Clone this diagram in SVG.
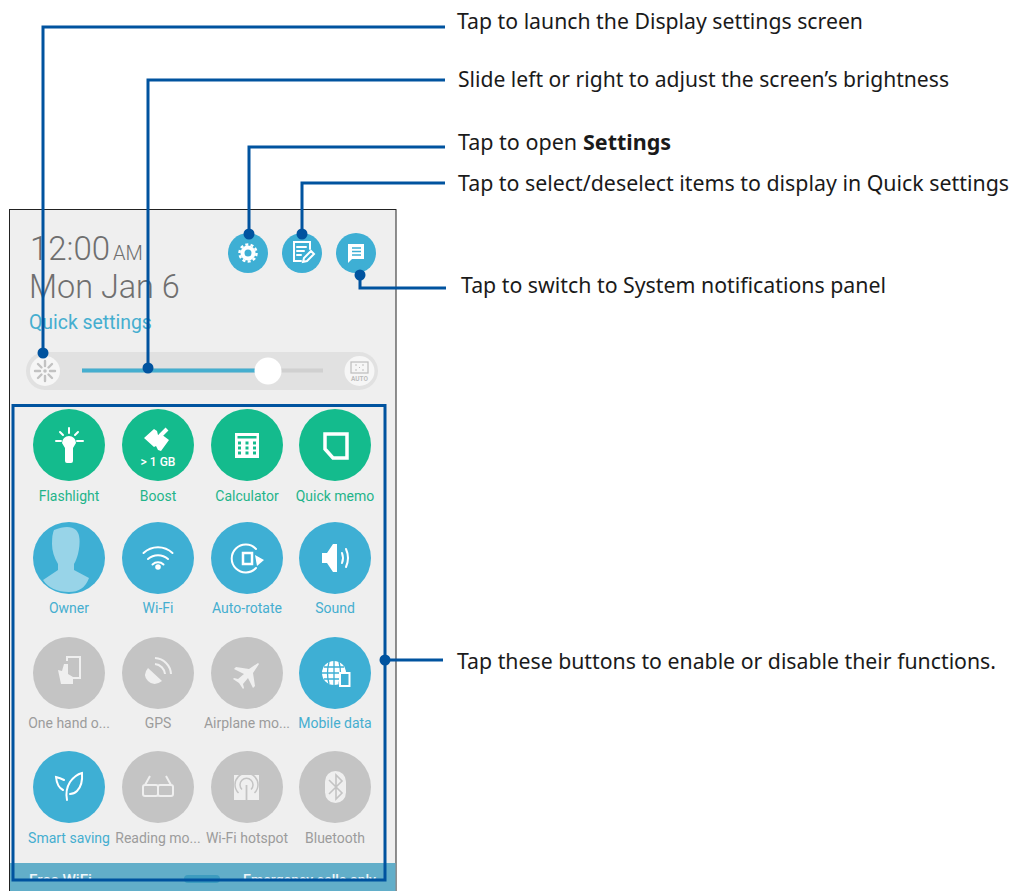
<svg xmlns="http://www.w3.org/2000/svg" width="1013" height="891" viewBox="0 0 1013 891">
<style>
.call{font:22px "Noto Sans","Open Sans",sans-serif;fill:#1a1a1a}
.ui{font-family:Roboto,"Noto Sans",sans-serif;text-anchor:middle;font-size:14px}
.g{fill:#14bb8d}.b{fill:#3eafd4}.o{fill:#c4c4c4}
.tg{fill:#1fb48a}.tb{fill:#45aecf}.to{fill:#9c9c9c}
.w{fill:#fff}.ws{fill:none;stroke:#fff;stroke-width:2;stroke-linecap:round}
.wo{fill:#efefef}.wos{fill:none;stroke:#efefef;stroke-width:2}
.con{fill:none;stroke:#00539f;stroke-width:3}
.dot{fill:#00539f}
</style>
<defs><clipPath id="barclip"><rect x="10" y="863" width="385" height="17"/></clipPath></defs>
<rect width="1013" height="891" fill="#fff"/>
<g id="panel">
<rect x="9.500" y="209.500" width="386.500" height="690" fill="#efefef" stroke="#222" stroke-width="1"/>
<text x="30" y="260" font-family="Roboto,sans-serif" font-size="33" font-weight="300" fill="#6f6f6f">12:00<tspan x="113" font-size="20">AM</tspan></text>
<text x="29" y="298" font-family="Roboto,sans-serif" font-size="32.400" font-weight="300" fill="#6f6f6f">Mon Jan 6</text>
<text x="29" y="329" font-family="Roboto,sans-serif" font-size="19.400" fill="#45aecf">Quick settings</text>
<rect x="10" y="863" width="385.500" height="28" fill="#62aec9"/>
<g clip-path="url(#barclip)" fill="#eef6f9" font-family="Roboto,sans-serif" font-size="15" font-weight="500">
<text x="29" y="885" textLength="63" lengthAdjust="spacingAndGlyphs">Free WiFi</text>
<text x="243" y="885" textLength="133" lengthAdjust="spacingAndGlyphs">Emergency calls only</text>
</g>
<rect x="184" y="875" width="36" height="8" rx="4" fill="#3d9cbf"/>
</g>
<g id="top-icons">
<g id="btn-settings"><circle cx="248" cy="253" r="20" class="b"/><circle cx="248" cy="253" r="5.500" fill="none" stroke="#fff" stroke-width="4"/><circle cx="248" cy="253" r="8.500" fill="none" stroke="#fff" stroke-width="2.500" stroke-dasharray="3 2.300"/></g>
<g id="btn-edit"><circle cx="302" cy="253" r="20" class="b"/><path d="M310 249v-7h-16v19h7" class="ws" stroke-width="1.600"/><path d="M297 247h9M297 251h7M297 255h4" class="ws" stroke-width="1.500"/><path d="M303 262l1-4 7-7 3 3-7 7z" class="ws" stroke-width="1.500"/></g>
<g id="btn-notify"><circle cx="356" cy="253" r="20" class="b"/><path d="M348 244h16v15h-12l-4 4z" class="w"/><path d="M352 248h9M352 251.500h9M352 255h9" stroke="#3eafd4" stroke-width="1.500"/></g>
</g>
<g id="brightness">
<rect x="26" y="352" width="352" height="38" rx="19" fill="#e1e1e1"/>
<circle cx="45" cy="371" r="15" fill="#f6f6f6"/>
<path d="M45 361v5M45 376v5M35 371h5M50 371h5M38 364l3.500 3.500M48.500 374.500l3.500 3.500M52 364l-3.500 3.500M41.500 374.500l-3.500 3.500" stroke="#c2c2c2" stroke-width="2.400" stroke-linecap="round"/>
<circle cx="45" cy="371" r="1.800" fill="#c2c2c2"/>
<rect x="82" y="368.500" width="241" height="4" fill="#d0d0d0"/>
<rect x="82" y="368.500" width="186" height="4" fill="#45aecf"/>
<circle cx="268" cy="371" r="13.500" fill="#fff"/>
<circle cx="359.500" cy="371" r="15" fill="#f6f6f6"/>
<rect x="351" y="362" width="17" height="11" fill="none" stroke="#bdbdbd" stroke-width="1.200"/>
<path d="M355 365h2M362 365h2M355 370h2M362 370h2M359 367.500h1" stroke="#bdbdbd" stroke-width="1.200"/>
<text x="359.500" y="380.500" font-family="Roboto,sans-serif" font-size="6.500" font-weight="700" fill="#bdbdbd" text-anchor="middle">AUTO</text>
</g>
<g id="flashlight"><circle cx="69" cy="445" r="36" class="g"/><path d="M62 443a7 7 0 0 1 14 0l-3 5v13a2 2 0 0 1-2 2h-4a2 2 0 0 1-2-2v-13z" class="w"/><path d="M69 428v5M60 432l3 3M78 432l-3 3M56 441h5M77 441h6" class="ws"/><text x="69" y="500.500" class="ui tg">Flashlight</text></g>
<g id="boost"><circle cx="158" cy="445" r="36" class="g"/><path d="M144 438l10-9 3 2 1 4 3-1 8 6-8 11-3-1-2-4-2 1z" class="w"/><path d="M160 436l7-7" stroke="#fff" stroke-width="4"/><text x="158" y="466" font-family="Roboto,sans-serif" font-size="12" font-weight="500" fill="#fff" text-anchor="middle">&gt; 1 GB</text><text x="158" y="500.500" class="ui tg">Boost</text></g>
<g id="calculator"><circle cx="247" cy="445" r="36" class="g"/><rect x="235" y="433" width="24" height="25" class="w"/><rect x="237.500" y="436" width="19" height="2.500" fill="#14bb8d"/><path d="M238 443h18M238 448h18M238 453h18" stroke="#14bb8d" stroke-width="3" stroke-dasharray="3 4.500"/><text x="247" y="500.500" class="ui tg">Calculator</text></g>
<g id="quick-memo"><circle cx="335" cy="445" r="36" class="g"/><path d="M325 434h22v24h-14l-8-9z" fill="none" stroke="#fff" stroke-width="3.500"/><text x="335" y="500.500" class="ui tg">Quick memo</text></g>
<g id="owner"><circle cx="69" cy="558" r="36" class="b"/><path d="M54 530q15-6 22 0q6 6 2 24q-2 7-4 10v6l15 8q-5 14-20 14q-18 0-26-12l15-10v-6q-6-10-6-20q0-10 2-14z" fill="#98d4e8"/><text x="69" y="613" class="ui tb">Owner</text></g>
<g id="wifi"><circle cx="158" cy="558" r="36" class="b"/><path d="M143.500 553a21 21 0 0 1 29 0M148 559a15 15 0 0 1 20 0M152.500 564.500a8 8 0 0 1 11 0" class="ws" stroke-width="2.600"/><circle cx="158" cy="567" r="2.800" class="w"/><text x="158" y="613" class="ui tb">Wi-Fi</text></g>
<g id="auto-rotate"><circle cx="247" cy="558" r="36" class="b"/><path d="M256 549a14 14 0 1 0 0 19" class="ws" stroke-width="3"/><rect x="243" y="553" width="9" height="11" fill="none" stroke="#fff" stroke-width="2.500"/><path d="M255 555l9 5-7 6z" class="w"/><text x="247" y="613" class="ui tb">Auto-rotate</text></g>
<g id="sound"><circle cx="335" cy="558" r="36" class="b"/><path d="M322 553h5l6-9h4v28h-4l-6-9h-5z" class="w"/><path d="M342 553q2 5 0 10M346 549q4 9 0 18" class="ws" stroke-width="1.300"/><text x="335" y="613" class="ui tb">Sound</text></g>
<g id="one-hand"><circle cx="69" cy="673" r="36" class="o"/><path d="M67 661v-4h13v21h-7" class="wos"/><path d="M58 670l4 1 2-7h4v10l5 3v7H61z" class="wo"/><text x="69" y="728" class="ui to">One hand o...</text></g>
<g id="gps"><circle cx="158" cy="673" r="36" class="o"/><path d="M148 668q-6 7 0 13t14 0z" class="wo"/><path d="M155 664a11 11 0 0 1 10 10M155 658a17 17 0 0 1 16 16" class="wos"/><text x="158" y="728" class="ui to">GPS</text></g>
<g id="airplane"><circle cx="247" cy="673" r="36" class="o"/><path d="M258 663l-9 6-13-2-2 2 10 5-6 5-4-1-1 1 6 4 4 6 1-1-1-4 5-6 5 10 2-2-2-13 6-9z" class="wo"/><text x="247" y="728" class="ui to">Airplane mo...</text></g>
<g id="mobile-data"><circle cx="335" cy="673" r="36" class="b"/><circle cx="334" cy="673" r="12" fill="#fff"/><path d="M322 673h24M324 667h20M324 679h20M334 661v24M329 662q-3 11 0 22M339 662q3 11 0 22" stroke="#3eafd4" stroke-width="1.300" fill="none"/><rect x="340" y="673" width="9.500" height="13" fill="#3eafd4" stroke="#fff" stroke-width="2"/><text x="335" y="728" class="ui tb">Mobile data</text></g>
<g id="smart-saving"><circle cx="69" cy="787" r="36" class="b"/><path d="M67 800q-2-10 3-18q5-7 12-9q1 12-5 18q-3 3-7 3M63 790q-6-3-7-13q4 1 8 3" class="ws" stroke-width="2.400"/><text x="69" y="843" class="ui tb">Smart saving</text></g>
<g id="reading"><circle cx="158" cy="787" r="36" class="o"/><path d="M143 787q0-2 2-2h11q2 0 2 2v7q0 2-2 2h-11q-2 0-2-2zM158 787q0-2 2-2h11q2 0 2 2v7q0 2-2 2h-11q-2 0-2-2zM145 785l5-9M171 785l-5-9" class="wos" stroke-width="1.600"/><text x="158" y="843" class="ui to">Reading mo...</text></g>
<g id="hotspot"><circle cx="247" cy="787" r="36" class="o"/><rect x="234" y="775" width="25" height="25" class="wo"/><path d="M242 789.500a6.500 6.500 0 1 1 9 0M238.500 793a11.500 11.500 0 1 1 16 0" fill="none" stroke="#c4c4c4" stroke-width="1.500"/><path d="M246.500 785v15" stroke="#c4c4c4" stroke-width="1.800"/><text x="247" y="843" class="ui to">Wi-Fi hotspot</text></g>
<g id="bluetooth"><circle cx="335" cy="787" r="36" class="o"/><rect x="325" y="771" width="21" height="32" rx="10.500" class="wo"/><path d="M329 780l13 13-6 6v-24l6 6-13 13" fill="none" stroke="#c4c4c4" stroke-width="1.600"/><text x="335" y="843" class="ui to">Bluetooth</text></g>
<g id="connectors">
<path class="con" d="M445 27H43V353M445 80H148V368M445 147H249V234M445 183H302V234M446 288H360V275"/>
<rect class="con" x="13" y="405.500" width="372" height="474.500"/>
<path class="con" d="M385 660H443"/>
<circle class="dot" cx="43" cy="353" r="5.500"/><circle class="dot" cx="148" cy="368" r="5.500"/><circle class="dot" cx="249" cy="234" r="5.500"/><circle class="dot" cx="302" cy="234" r="5.500"/><circle class="dot" cx="360" cy="275" r="5.500"/><circle class="dot" cx="385" cy="660" r="5.500"/>
</g>
<g id="labels">
<text class="call" x="457" y="29" textLength="406" lengthAdjust="spacingAndGlyphs">Tap to launch the Display settings screen</text>
<text class="call" x="458" y="87" textLength="491" lengthAdjust="spacingAndGlyphs">Slide left or right to adjust the screen’s brightness</text>
<text class="call" x="458" y="150" font-size="21.500" style="font-size:21.500px">Tap to open</text>
<text class="call" x="583" y="150" font-weight="700" style="font-size:21.500px;font-weight:700">Settings</text>
<text class="call" x="458" y="191" style="font-size:21.500px" textLength="551" lengthAdjust="spacingAndGlyphs">Tap to select/deselect items to display in Quick settings</text>
<text class="call" x="461" y="293" textLength="425" lengthAdjust="spacingAndGlyphs">Tap to switch to System notifications panel</text>
<text class="call" x="457" y="669" textLength="539" lengthAdjust="spacingAndGlyphs">Tap these buttons to enable or disable their functions.</text>
</g>
</svg>
